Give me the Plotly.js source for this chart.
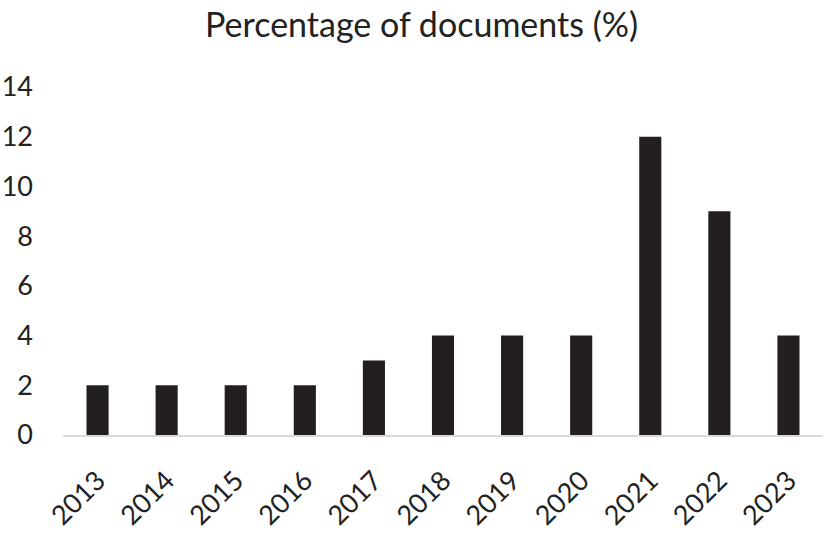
<!DOCTYPE html>
<html>
<head>
<meta charset="utf-8">
<script src="https://cdn.plot.ly/plotly-3.0.1.min.js"></script>
<style>html,body{margin:0;padding:0;background:#fff}#chart{width:825px;height:533px}</style>
</head>
<body>
<div id="chart"></div>
<script>
const years = ['2013','2014','2015','2016','2017','2018','2019','2020','2021','2022','2023'];
const percentages = [2, 2, 2, 2, 3, 4, 4, 4, 12, 9, 4];
const yTicks = [0, 2, 4, 6, 8, 10, 12, 14];
const chartTitle = 'Percentage of documents (%)';

const font = 'Lato, "Open Sans", sans-serif';
Plotly.newPlot('chart', [{
  type: 'bar',
  x: years,
  y: percentages,
  marker: {color: '#231f20'},
  hoverinfo: 'x+y'
}], {
  width: 825, height: 533,
  margin: {l: 63, r: 2, t: 87, b: 98},
  paper_bgcolor: '#fff', plot_bgcolor: '#fff',
  bargap: 0.68,
  title: {text: chartTitle, x: 0.511, xanchor: 'center', y: 0.953, yanchor: 'middle',
          font: {family: font, size: 34, color: '#222'}},
  xaxis: {
    type: 'category',
    showline: true, linecolor: '#d9d9d9', linewidth: 2,
    showgrid: false, ticks: '', tickangle: -45,
    ticklabelstandoff: 17,
    tickfont: {family: font, size: 27, color: '#222'}
  },
  yaxis: {
    range: [0, 14], tickvals: yTicks, showgrid: false, zeroline: false,
    showline: false, ticks: '', ticklabelstandoff: 29,
    tickfont: {family: font, size: 27, color: '#222'}
  },
  showlegend: false
}, {displayModeBar: false, staticPlot: true});
</script>
</body>
</html>
